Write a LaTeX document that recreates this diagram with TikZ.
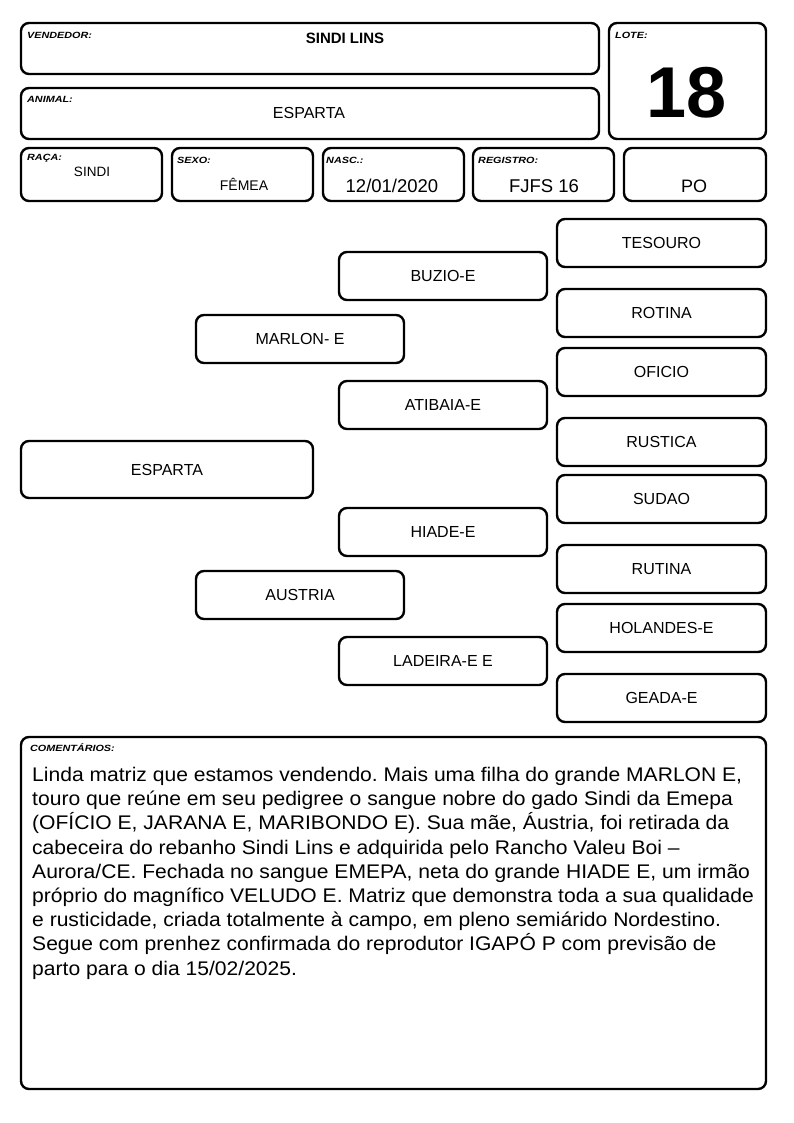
\documentclass[tikz,border=0pt]{standalone}
\usepackage{fontspec}
\setmainfont{Liberation Sans}
\newfontfamily\widefont[FakeStretch=1.07]{Liberation Sans}
\usepackage{graphicx}
\frenchspacing
\begin{document}
\begin{tikzpicture}[x=1pt,y=-1pt,
  card/.style={draw=black,line width=2.4pt,rounded corners=8pt,fill=white,inner sep=0pt,align=center},
  lbl/.style={anchor=west,inner sep=0pt,font=\fontsize{9}{10}\selectfont\bfseries\itshape},
  val/.style={inner sep=0pt,anchor=center},
  ped/.style={card,font=\fontsize{16}{17}\selectfont}]
\useasboundingbox (0,0) rectangle (794,1123);
\newcommand\cardat[5]{\node[card,minimum width={#4-#2},minimum height={#5-#3}] (#1) at ({(#2+#4)/2},{(#3+#5)/2}) {};}
\newcommand\pedat[6]{\node[ped,minimum width={#4-#2},minimum height={#5-#3}] (#1) at ({(#2+#4)/2},{(#3+#5)/2}) {#6};}
\newcommand\lab[3]{\node[lbl] at (#2,#3) {\scalebox{1.2}[1]{#1}};}
% header
\cardat{vend}{21}{23}{599}{74}
\cardat{anim}{21}{88}{599}{139}
\cardat{lote}{609}{23}{766}{139}
\cardat{raca}{21}{148}{162}{201}
\cardat{sexo}{172}{148}{313}{201}
\cardat{nasc}{323}{148}{464}{201}
\cardat{reg}{473}{148}{614}{201}
\cardat{po}{624}{148}{766}{201}
\lab{VENDEDOR:}{27}{35}
\lab{ANIMAL:}{27}{99}
\lab{LOTE:}{615}{35}
\lab{RAÇA:}{27}{158}
\lab{SEXO:}{177}{160}
\lab{NASC.:}{326}{160}
\lab{REGISTRO:}{478}{160}
\node[val,font=\fontsize{15}{16}\selectfont\bfseries] at (345,38) {SINDI LINS};
\node[val,font=\fontsize{16}{17}\selectfont] at (309,113) {ESPARTA};
\node[val,font=\fontsize{72}{80}\selectfont\bfseries] at (687,93) {18};
\node[val,font=\fontsize{13.5}{15}\selectfont] at (92,172) {SINDI};
\node[val,font=\fontsize{14}{16}\selectfont] at (244,184) {FÊMEA};
\node[val,font=\fontsize{18.5}{20}\selectfont] at (392,186) {12/01/2020};
\node[val,font=\fontsize{18.5}{20}\selectfont] at (544,186) {FJFS 16};
\node[val,font=\fontsize{18}{20}\selectfont] at (694,186) {PO};
% pedigree
\pedat{esparta}{21}{441}{313}{498}{ESPARTA}
\pedat{marlon}{196}{315}{404}{363}{MARLON- E}
\pedat{austria}{196}{571}{404}{619}{AUSTRIA}
\pedat{buzio}{339}{252}{547}{300}{BUZIO-E}
\pedat{atibaia}{339}{381}{547}{429}{ATIBAIA-E}
\pedat{hiade}{339}{508}{547}{556}{HIADE-E}
\pedat{ladeira}{339}{637}{547}{685}{LADEIRA-E E}
\pedat{tesouro}{557}{219}{766}{267}{TESOURO}
\pedat{rotina}{557}{289}{766}{337}{ROTINA}
\pedat{oficio}{557}{348}{766}{396}{OFICIO}
\pedat{rustica}{557}{418}{766}{466}{RUSTICA}
\pedat{sudao}{557}{475}{766}{523}{SUDAO}
\pedat{rutina}{557}{545}{766}{593}{RUTINA}
\pedat{holandes}{557}{604}{766}{652}{HOLANDES-E}
\pedat{geada}{557}{674}{766}{722}{GEADA-E}
% comments
\cardat{coment}{21}{737}{766}{1089}
\lab{COMENTÁRIOS:}{30}{748}
\node[inner sep=0pt,anchor=north west,align=left,font=\widefont\fontsize{19.7}{24.2}\selectfont] (ctext) at (32,767) {Linda matriz que estamos vendendo. Mais uma filha do grande MARLON E,\\
touro que reúne em seu pedigree o sangue nobre do gado Sindi da Emepa\\
(OFÍCIO E, JARANA E, MARIBONDO E). Sua mãe, Áustria, foi retirada da\\
cabeceira do rebanho Sindi Lins e adquirida pelo Rancho Valeu Boi –\\
Aurora/CE. Fechada no sangue EMEPA, neta do grande HIADE E, um irmão\\
próprio do magnífico VELUDO E. Matriz que demonstra toda a sua qualidade\\
e rusticidade, criada totalmente à campo, em pleno semiárido Nordestino.\\
Segue com prenhez confirmada do reprodutor IGAPÓ P com previsão de\\
parto para o dia 15/02/2025.};
\end{tikzpicture}
\end{document}
